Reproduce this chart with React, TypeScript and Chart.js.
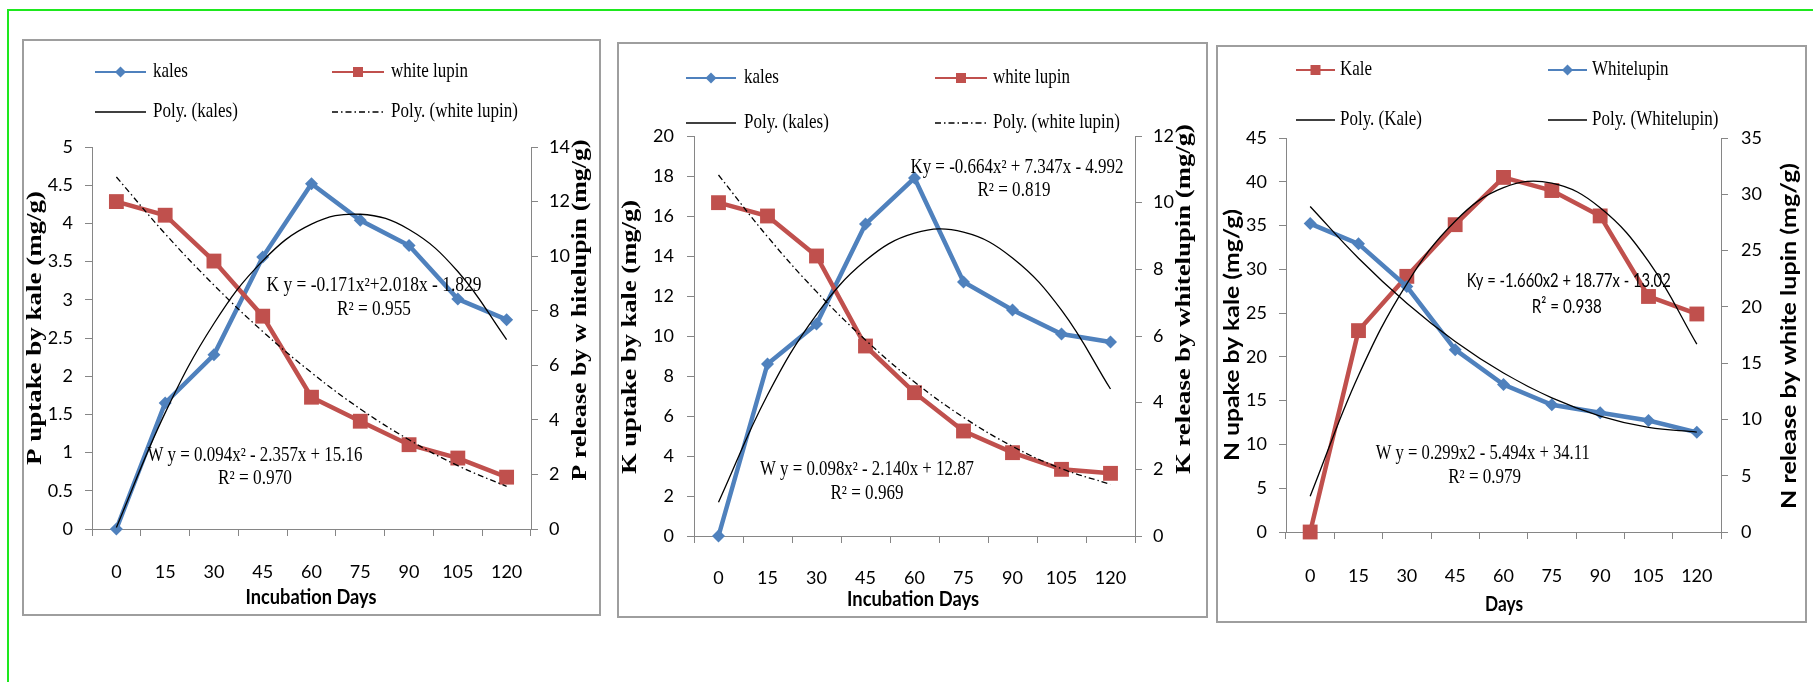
import React, { useEffect, useRef } from 'react';
import { Chart, registerables } from 'chart.js';

Chart.register(...registerables);

// ---------- data ----------
const DAYS = ['0', '15', '30', '45', '60', '75', '90', '105', '120'];

// Phosphorus panel
const P_KALES = [0, 1.65, 2.28, 3.56, 4.52, 4.04, 3.71, 3.01, 2.74];
const P_LUPIN = [12.0, 11.5, 9.82, 7.8, 4.83, 3.95, 3.09, 2.6, 1.9];
const P_KALES_POLY = [0.02, 1.52, 2.69, 3.51, 3.99, 4.12, 3.92, 3.37, 2.48];
const P_LUPIN_POLY = [12.9, 10.82, 8.94, 7.24, 5.73, 4.4, 3.27, 2.32, 1.56];

// Potassium panel
const K_KALES = [0, 8.6, 10.6, 15.6, 17.9, 12.7, 11.3, 10.1, 9.7];
const K_LUPIN = [10.0, 9.6, 8.4, 5.7, 4.3, 3.15, 2.5, 2.0, 1.88];
const K_KALES_POLY = [1.69, 7.05, 11.07, 13.77, 15.14, 15.19, 13.9, 11.29, 7.35];
const K_LUPIN_POLY = [10.83, 8.98, 7.33, 5.88, 4.62, 3.56, 2.69, 2.02, 1.55];

// Nitrogen panel
const N_KALE = [0, 23.0, 29.2, 35.1, 40.5, 39.0, 36.1, 26.9, 24.9];
const N_LUPIN = [27.4, 25.6, 21.8, 16.2, 13.1, 11.3, 10.6, 9.9, 8.85];
const N_KALE_POLY = [4.09, 17.88, 28.35, 35.5, 39.33, 39.84, 37.03, 30.9, 21.45];
const N_LUPIN_POLY = [28.92, 24.32, 20.32, 16.92, 14.12, 11.91, 10.3, 9.29, 8.88];

// axis ranges [min, max, step]
const P_LEFT_AXIS = [0, 5, 0.5];
const P_RIGHT_AXIS = [0, 14, 2];
const K_LEFT_AXIS = [0, 20, 2];
const K_RIGHT_AXIS = [0, 12, 2];
const N_LEFT_AXIS = [0, 45, 5];
const N_RIGHT_AXIS = [0, 35, 5];

// legend labels
const P_LEGEND = ['kales', 'white lupin', 'Poly. (kales)', 'Poly. (white lupin)'];
const K_LEGEND = ['kales', 'white lupin', 'Poly. (kales)', 'Poly. (white lupin)'];
const N_LEGEND = ['Kale', 'Whitelupin', 'Poly. (Kale)', 'Poly. (Whitelupin)'];

// equations
const P_EQUATIONS = ['K y = -0.171x²+2.018x - 1.829', 'R² = 0.955', 'W y = 0.094x² - 2.357x + 15.16', 'R² = 0.970'];
const K_EQUATIONS = ['Ky = -0.664x² + 7.347x - 4.992', 'R² = 0.819', 'W y = 0.098x² - 2.140x + 12.87', 'R² = 0.969'];
const N_EQUATIONS = ['Ky = -1.660x2 + 18.77x - 13.02', 'R² = 0.938', 'W y = 0.299x2 - 5.494x + 34.11', 'R² = 0.979'];

// axis titles [left, right, bottom]
const P_TITLES = ['P uptake by kale (mg/g)', 'P release by w hitelupin (mg/g)', 'Incubation Days'];
const K_TITLES = ['K uptake by kale (mg/g)', 'K release by whitelupin (mg/g)', 'Incubation Days'];
const N_TITLES = ['N upake by kale (mg/g)', 'N release by white lupin (mg/g)', 'Days'];

// ---------- styles ----------
const BLUE = '#4F81BD';
const RED = '#C0504D';
const AXIS = '#868686';
const SERIF = '"Liberation Serif", "Times New Roman", serif';
const SANS = 'Lato, "Liberation Sans", Arial, sans-serif';
const STRETCH = 1.18;

type Note = { i: number; v: number; w: number; font: string };
type Spec = {
  box: [number, number, number, number];
  area: { left: number; right: number; top: number; bottom: number };
  leftAxis: number[]; rightAxis: number[];
  leftPad: number; rightPad: number; xPad: number;
  series: { data: number[]; right: boolean; color: string; marker: string }[];
  polys: { data: number[]; right: boolean; dash: number[] }[];
  legendLabels: string[];
  legendRows: number[];
  legendCols: { x0: number; x1: number; tx: number }[];
  equations: string[];
  notes: Note[];
  titles: string[];
  titlePos: { x: number; y: number; len: number; font: string }[];
};

const DASHDOT = [6, 3, 1.5, 3];

const SPECS: Spec[] = [
  {
    box: [22, 39, 579, 577],
    area: { left: 68, right: 68, top: 106, bottom: 85 },
    leftAxis: P_LEFT_AXIS, rightAxis: P_RIGHT_AXIS,
    leftPad: 12, rightPad: 11, xPad: 25,
    series: [
      { data: P_KALES, right: false, color: BLUE, marker: 'rectRot' },
      { data: P_LUPIN, right: true, color: RED, marker: 'rect' },
    ],
    polys: [
      { data: P_KALES_POLY, right: false, dash: [] },
      { data: P_LUPIN_POLY, right: true, dash: DASHDOT },
    ],
    legendLabels: P_LEGEND,
    legendRows: [31, 71],
    legendCols: [{ x0: 71, x1: 122, tx: 129 }, { x0: 308, x1: 360, tx: 367 }],
    equations: P_EQUATIONS,
    notes: [
      { i: 5.28, v: 3.18, w: 215, font: `17px ${SERIF}` },
      { i: 5.28, v: 2.87, w: 74, font: `17px ${SERIF}` },
      { i: 2.84, v: 0.955, w: 215, font: `17px ${SERIF}` },
      { i: 2.84, v: 0.654, w: 74, font: `17px ${SERIF}` },
    ],
    titles: P_TITLES,
    titlePos: [
      { x: 12, y: 287, len: 274, font: `bold 21px ${SERIF}` },
      { x: 557, y: 269, len: 341, font: `bold 21px ${SERIF}` },
      { x: 287, y: 557, len: 131, font: `bold 17px ${SANS}` },
    ],
  },
  {
    box: [617, 42, 591, 576],
    area: { left: 75, right: 71, top: 92, bottom: 80 },
    leftAxis: K_LEFT_AXIS, rightAxis: K_RIGHT_AXIS,
    leftPad: 13, rightPad: 11, xPad: 24,
    series: [
      { data: K_KALES, right: false, color: BLUE, marker: 'rectRot' },
      { data: K_LUPIN, right: true, color: RED, marker: 'rect' },
    ],
    polys: [
      { data: K_KALES_POLY, right: false, dash: [] },
      { data: K_LUPIN_POLY, right: true, dash: DASHDOT },
    ],
    legendLabels: K_LEGEND,
    legendRows: [34, 79],
    legendCols: [{ x0: 67, x1: 117, tx: 125 }, { x0: 316, x1: 368, tx: 374 }],
    equations: K_EQUATIONS,
    notes: [
      { i: 6.09, v: 18.4, w: 213, font: `17px ${SERIF}` },
      { i: 6.03, v: 17.25, w: 73, font: `17px ${SERIF}` },
      { i: 3.03, v: 3.3, w: 214, font: `17px ${SERIF}` },
      { i: 3.03, v: 2.1, w: 73, font: `17px ${SERIF}` },
    ],
    titles: K_TITLES,
    titlePos: [
      { x: 12, y: 293, len: 274, font: `bold 21px ${SERIF}` },
      { x: 566, y: 255, len: 350, font: `bold 21px ${SERIF}` },
      { x: 294, y: 556, len: 132, font: `bold 17px ${SANS}` },
    ],
  },
  {
    box: [1216, 45, 591, 578],
    area: { left: 68, right: 84, top: 91, bottom: 89 },
    leftAxis: N_LEFT_AXIS, rightAxis: N_RIGHT_AXIS,
    leftPad: 12, rightPad: 13, xPad: 26,
    series: [
      { data: N_KALE, right: false, color: RED, marker: 'rect' },
      { data: N_LUPIN, right: true, color: BLUE, marker: 'rectRot' },
    ],
    polys: [
      { data: N_KALE_POLY, right: false, dash: [] },
      { data: N_LUPIN_POLY, right: true, dash: [] },
    ],
    legendLabels: N_LEGEND,
    legendRows: [23, 73],
    legendCols: [{ x0: 78, x1: 117, tx: 122 }, { x0: 330, x1: 369, tx: 374 }],
    equations: N_EQUATIONS,
    notes: [
      { i: 5.35, v: 28.67, w: 204, font: `17px ${SANS}` },
      { i: 5.31, v: 25.7, w: 70, font: `17px ${SANS}` },
      { i: 3.57, v: 8.9, w: 214, font: `17px ${SERIF}` },
      { i: 3.61, v: 6.17, w: 73, font: `17px ${SERIF}` },
    ],
    titles: N_TITLES,
    titlePos: [
      { x: 15, y: 288, len: 252, font: `bold 20px ${SANS}` },
      { x: 572, y: 289, len: 346, font: `bold 20px ${SANS}` },
      { x: 286, y: 558, len: 38, font: `bold 17px ${SANS}` },
    ],
  },
];

// ---------- drawing helpers ----------
function drawText(
  ctx: CanvasRenderingContext2D,
  text: string,
  x: number,
  y: number,
  font: string,
  opts: { align?: CanvasTextAlign; len?: number; rot?: number; stretch?: number } = {}
) {
  ctx.save();
  ctx.font = font;
  ctx.fillStyle = '#000';
  ctx.textBaseline = 'middle';
  ctx.textAlign = opts.align || 'center';
  const m = ctx.measureText(text).width;
  const sx = opts.len ? opts.len / m : 1;
  ctx.translate(x, y);
  if (opts.rot) ctx.rotate(opts.rot);
  ctx.scale(sx, opts.stretch || 1);
  ctx.fillText(text, 0, 0);
  ctx.restore();
}

function drawMarker(ctx: CanvasRenderingContext2D, style: string, x: number, y: number, r: number, color: string) {
  ctx.save();
  ctx.fillStyle = color;
  ctx.beginPath();
  if (style === 'rectRot') {
    ctx.moveTo(x - r, y);
    ctx.lineTo(x, y - r);
    ctx.lineTo(x + r, y);
    ctx.lineTo(x, y + r);
    ctx.closePath();
  } else {
    ctx.rect(x - r, y - r, 2 * r, 2 * r);
  }
  ctx.fill();
  ctx.restore();
}

function makeOverlay(spec: Spec) {
  return {
    id: 'overlay',
    afterDraw(chart: any) {
      const ctx: CanvasRenderingContext2D = chart.ctx;
      // legend
      spec.legendLabels.forEach((label, k) => {
        const col = spec.legendCols[k % 2];
        const y = spec.legendRows[Math.floor(k / 2)];
        const ds = chart.data.datasets[k];
        ctx.save();
        ctx.strokeStyle = ds.borderColor;
        ctx.lineWidth = k < 2 ? 2.2 : 1.5;
        ctx.setLineDash(ds.borderDash || []);
        ctx.beginPath();
        ctx.moveTo(col.x0, y);
        ctx.lineTo(col.x1, y);
        ctx.stroke();
        ctx.restore();
        if (k < 2) {
          const r = ds.pointStyle === 'rect' ? 5 : 5.5;
          drawMarker(ctx, ds.pointStyle, (col.x0 + col.x1) / 2, y, r, ds.backgroundColor);
        }
        drawText(ctx, label, col.tx, y, `17px ${SERIF}`, { align: 'left', stretch: STRETCH });
      });
      // equations
      const xs = chart.scales.x;
      const ys = chart.scales.y;
      spec.equations.forEach((eq, k) => {
        const n = spec.notes[k];
        drawText(ctx, eq, xs.getPixelForValue(n.i), ys.getPixelForValue(n.v), n.font, {
          len: n.w,
          stretch: STRETCH,
        });
      });
      // axis titles
      const [tl, tr, tb] = spec.titlePos;
      drawText(ctx, spec.titles[0], tl.x, tl.y, tl.font, { rot: -Math.PI / 2, len: tl.len });
      drawText(ctx, spec.titles[1], tr.x, tr.y, tr.font, { rot: -Math.PI / 2, len: tr.len });
      drawText(ctx, spec.titles[2], tb.x, tb.y, tb.font, { len: tb.len, stretch: STRETCH });
    },
  };
}

function Panel({ spec }: { spec: Spec }) {
  const ref = useRef<HTMLCanvasElement>(null);
  const [bx, by, bw, bh] = spec.box;
  const cw = bw - 4;
  const ch = bh - 4;

  useEffect(() => {
    const canvas = ref.current;
    if (!canvas) return;
    const tickFont = { family: SANS, size: 18 };
    const seriesDs = spec.series.map((s, k) => ({
      label: spec.legendLabels[k],
      data: s.data,
      yAxisID: s.right ? 'y1' : 'y',
      borderColor: s.color,
      backgroundColor: s.color,
      borderWidth: 4.5,
      pointStyle: s.marker,
      pointRadius: s.marker === 'rect' ? 10.5 : 6.5,
      pointBorderWidth: 0,
      pointBackgroundColor: s.color,
      tension: 0,
      clip: false,
      order: 3 - k,
    }));
    const polyDs = spec.polys.map((p, k) => ({
      label: spec.legendLabels[k + 2],
      data: p.data,
      yAxisID: p.right ? 'y1' : 'y',
      borderColor: '#000',
      backgroundColor: '#000',
      borderWidth: 1.3,
      borderDash: p.dash,
      pointRadius: 0,
      tension: 0.4,
      clip: false,
      order: 0,
    }));
    const yAxis = (range: number[], pos: 'left' | 'right', pad: number, width: number) => ({
      type: 'linear',
      position: pos,
      min: range[0],
      max: range[1],
      ticks: {
        stepSize: range[2],
        font: tickFont,
        color: '#000',
        padding: pad,
        callback: (v: any) => String(Math.round(Number(v) * 100) / 100),
      },
      grid: { drawOnChartArea: false, drawTicks: true, tickLength: 7, color: AXIS },
      border: { display: true, color: AXIS, width: 1 },
      afterFit: (s: any) => {
        s.width = width;
      },
    });
    const chart = new Chart(canvas, {
      type: 'line',
      data: { labels: DAYS, datasets: [...seriesDs, ...polyDs] as any },
      options: {
        responsive: false,
        animation: false,
        events: [],
        layout: { padding: { top: spec.area.top, left: 0, right: 0, bottom: 0 } },
        plugins: { legend: { display: false }, tooltip: { enabled: false } },
        scales: {
          x: {
            type: 'category',
            offset: true,
            grid: { offset: true, drawOnChartArea: false, drawTicks: true, tickLength: 7, color: AXIS },
            border: { display: true, color: AXIS, width: 1 },
            ticks: { font: tickFont, color: '#000', padding: spec.xPad, maxRotation: 0, autoSkip: false },
            afterFit: (s: any) => {
              s.height = spec.area.bottom;
            },
          },
          y: yAxis(spec.leftAxis, 'left', spec.leftPad, spec.area.left),
          y1: yAxis(spec.rightAxis, 'right', spec.rightPad, spec.area.right),
        } as any,
      },
      plugins: [makeOverlay(spec)],
    });
    return () => chart.destroy();
  }, []);

  return (
    <div
      style={{
        position: 'absolute',
        left: bx,
        top: by,
        width: bw,
        height: bh,
        boxSizing: 'border-box',
        border: '2px solid #9e9e9e',
        background: '#fff',
      }}
    >
      <canvas ref={ref} width={cw} height={ch} style={{ display: 'block', width: cw, height: ch }} />
    </div>
  );
}

export default function App() {
  return (
    <div
      style={{
        position: 'absolute',
        left: 0,
        top: 0,
        width: 1813,
        height: 682,
        overflow: 'hidden',
        background: '#fff',
      }}
    >
      <div
        style={{
          position: 'absolute',
          left: 7,
          top: 9,
          width: 1830,
          height: 700,
          border: '2px solid #1ee81e',
          boxSizing: 'border-box',
        }}
      />
      {SPECS.map((s, k) => (
        <Panel key={k} spec={s} />
      ))}
    </div>
  );
}
